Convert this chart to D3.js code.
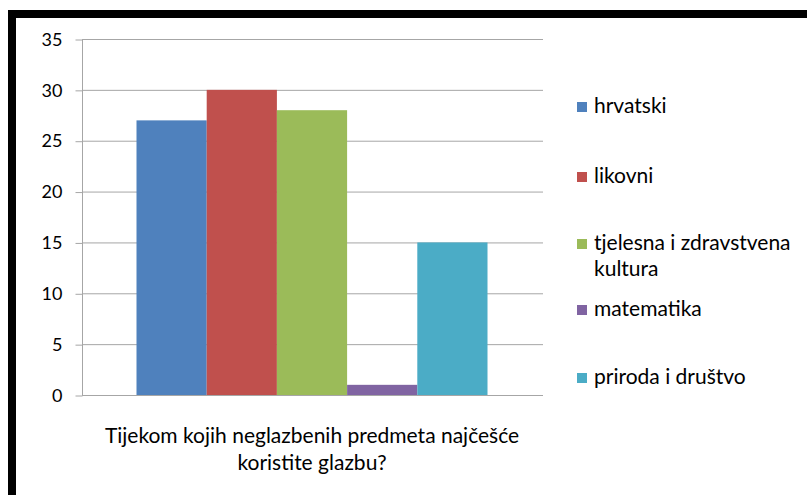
<!DOCTYPE html>
<html>
<head>
<meta charset="utf-8">
<script src="https://cdn.jsdelivr.net/npm/d3@7"></script>
<style>
  body { margin: 0; background: #fff; }
  svg { display: block; font-family: Lato, "Open Sans", sans-serif; }
</style>
</head>
<body>
<div class="chart"></div>
<script>
const subjects = ["hrvatski", "likovni", "tjelesna i zdravstvena kultura", "matematika", "priroda i društvo"]
const counts = [27, 30, 28, 1, 15]
const colors = ["#4F81BD", "#C0504D", "#9BBB59", "#8064A2", "#4BACC6"]
const legendLines = [["hrvatski"], ["likovni"], ["tjelesna i zdravstvena", "kultura"], ["matematika"], ["priroda i društvo"]]
const yTicks = [0, 5, 10, 15, 20, 25, 30, 35]
const titleLines = ["Tijekom kojih neglazbenih predmeta najčešće", "koristite glazbu?"]

const w = 807
const h = 495
const plotL = 82, plotR = 543, plotT = 39, plotB = 395

const svg = d3.select(".chart").append("svg").attr("width", w).attr("height", h)

// black frame
svg.append("rect").attr("x", 8).attr("y", 10).attr("width", w + 20).attr("height", 8).attr("fill", "#000")
svg.append("rect").attr("x", 8).attr("y", 10).attr("width", 8).attr("height", h).attr("fill", "#000")

const yScale = d3.scaleLinear().domain([0, 35]).range([plotB, plotT])
const xScale = d3.scaleBand().domain(subjects).range([plotL + 54.5, plotR - 55.5]).padding(0)

// gridlines
svg.append("g").selectAll("line")
  .data(yTicks.filter(d => d > 0))
  .enter().append("line")
  .attr("x1", plotL).attr("x2", plotR)
  .attr("y1", d => yScale(d) + 0.5).attr("y2", d => yScale(d) + 0.5)
  .attr("stroke", "#a6a6a6").attr("stroke-width", 1)

// bars
svg.append("g").selectAll("rect")
  .data(subjects)
  .enter().append("rect")
  .attr("x", d => xScale(d))
  .attr("width", xScale.bandwidth())
  .attr("y", (d, i) => yScale(counts[i]))
  .attr("height", (d, i) => plotB - yScale(counts[i]))
  .attr("fill", (d, i) => colors[i])

// y axis
const yAxis = d3.axisLeft(yScale).tickValues(yTicks).tickSize(7).tickPadding(13)
const ya = svg.append("g").attr("transform", `translate(${plotL + 0.5},0.5)`).call(yAxis)
ya.select(".domain").attr("stroke", "#a6a6a6").attr("d", `M0,${plotT}V${plotB}`)
ya.selectAll(".tick line").attr("stroke", "#a6a6a6")
ya.selectAll(".tick text").attr("fill", "#000").style("font-size", "18px").style("font-family", "Lato, sans-serif")

// x axis baseline
svg.append("line").attr("x1", plotL).attr("x2", plotR)
  .attr("y1", plotB + 0.5).attr("y2", plotB + 0.5)
  .attr("stroke", "#a6a6a6")

// axis title
svg.append("g").selectAll("text")
  .data(titleLines)
  .enter().append("text")
  .attr("x", 312).attr("y", (d, i) => 443 + i * 27)
  .attr("text-anchor", "middle")
  .style("font-size", "21px")
  .text(d => d)

// legend
const legendY = [107, 177, 244, 310, 378]
const lg = svg.append("g").selectAll("g")
  .data(legendLines)
  .enter().append("g")
  .attr("transform", (d, i) => `translate(577,${legendY[i]})`)
lg.append("rect").attr("x", 0).attr("y", -5).attr("width", 10).attr("height", 10)
  .attr("fill", (d, i) => colors[i])
lg.selectAll("text")
  .data(d => d)
  .enter().append("text")
  .attr("x", 17).attr("y", (d, i) => 6 + i * 26)
  .style("font-size", "21px")
  .text(d => d)
</script>
</body>
</html>
